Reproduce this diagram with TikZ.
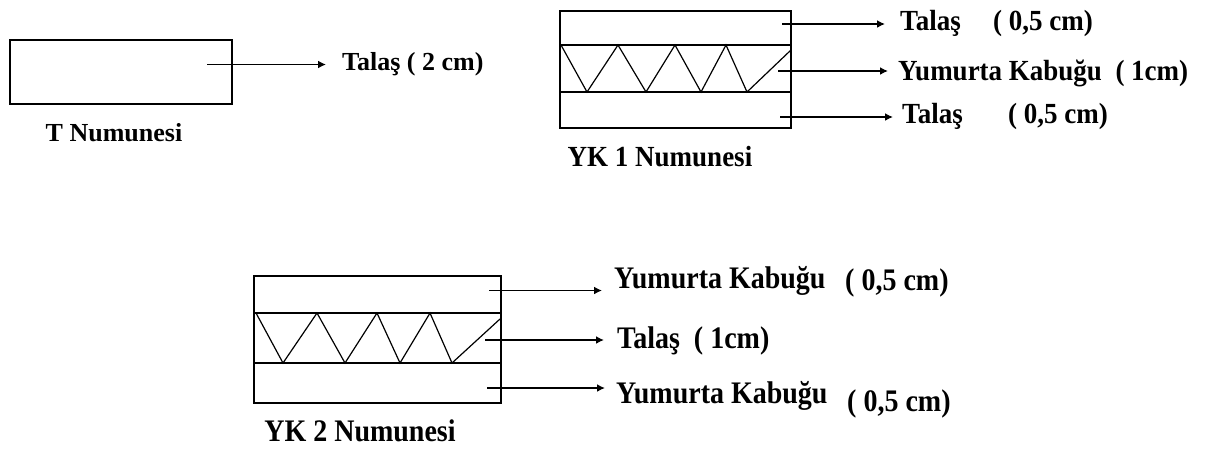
\documentclass[tikz,border=0pt]{standalone}
\usepackage{fontspec}
\setmainfont{Liberation Serif}
\usetikzlibrary{arrows.meta}
\newcommand{\txA}[1]{\bfseries\fontsize{26}{30}\selectfont #1}
\newcommand{\txB}[1]{\bfseries\fontsize{27}{30}\selectfont\scalebox{1}[1.08]{#1}}
\newcommand{\txC}[1]{\bfseries\fontsize{28}{30}\selectfont\scalebox{1}[1.12]{#1}}
\begin{document}
\begin{tikzpicture}[x=1pt,y=-1pt,
  box/.style={draw, line width=1.6pt},
  layer/.style={line width=1.6pt},
  zig/.style={line width=1.2pt, line join=miter},
  arr/.style={line width=1.8pt, -{Latex[length=8pt,width=8pt]}},
  lbl/.style={anchor=base west, inner sep=0pt},
  captext/.style={anchor=base, inner sep=0pt}]
\useasboundingbox (0,0) rectangle (1208,450);

% ---------- T sample ----------
\draw[box] (10,40) rectangle (232,104);
\node[captext] (tcap) at (114,141.5) {\txA{T Numunesi}};
\coordinate (t1s) at (207,64.5);
\coordinate (t1e) at (326,64.5);
\node[lbl] (t1) at (342,70) {\txA{Talaş ( 2 cm)}};
\draw[arr] (t1s) -- (t1e);

% ---------- YK 1 sample ----------
\draw[box] (560,11) rectangle (791,128);
\draw[layer] (560,45) -- (791,45);
\draw[layer] (560,92) -- (791,92);
\draw[zig] (561,45) -- (587,92) -- (618,45) -- (646,92) -- (675,45) -- (701,92) -- (726,45) -- (747,92) -- (791,50);
\node[captext] (ycap1) at (660,166) {\txB{YK 1 Numunesi}};
\coordinate (a1s) at (782,24);
\coordinate (a1e) at (885,24);
\coordinate (a2s) at (778,71);
\coordinate (a2e) at (888,71);
\coordinate (a3s) at (780,117);
\coordinate (a3e) at (893,117);
\node[lbl] (y1a) at (900,30) {\txB{Talaş}};
\node[lbl] (y1b) at (993,30) {\txB{( 0,5 cm)}};
\node[lbl] (y1c) at (898,80) {\txB{Yumurta Kabuğu\enspace( 1cm)}};
\node[lbl] (y1d) at (902,123.5) {\txB{Talaş}};
\node[lbl] (y1e) at (1008,123.5) {\txB{( 0,5 cm)}};
\draw[arr] (a1s) -- (a1e);
\draw[arr] (a2s) -- (a2e);
\draw[arr] (a3s) -- (a3e);

% ---------- YK 2 sample ----------
\draw[box] (254,276) rectangle (501,403);
\draw[layer] (254,313) -- (501,313);
\draw[layer] (254,363) -- (501,363);
\draw[zig] (256,313) -- (283,363) -- (317,313) -- (345,363) -- (377,313) -- (400,363) -- (430,313) -- (452,363) -- (500,319);
\node[captext] (ycap2) at (360,441) {\txC{YK 2 Numunesi}};
\coordinate (b1s) at (489,290.5);
\coordinate (b1e) at (602,290.5);
\coordinate (b2s) at (485,340);
\coordinate (b2e) at (604,340);
\coordinate (b3s) at (487,388);
\coordinate (b3e) at (605,388);
\node[lbl] (y2a) at (614,288.5) {\txC{Yumurta Kabuğu}};
\node[lbl] (y2b) at (845,290) {\txC{( 0,5 cm)}};
\node[lbl] (y2c) at (617,348.5) {\txC{Talaş\enspace( 1cm)}};
\node[lbl] (y2d) at (616,403) {\txC{Yumurta Kabuğu}};
\node[lbl] (y2e) at (847,411) {\txC{( 0,5 cm)}};
\draw[arr] (b1s) -- (b1e);
\draw[arr] (b2s) -- (b2e);
\draw[arr] (b3s) -- (b3e);
\end{tikzpicture}
\end{document}
